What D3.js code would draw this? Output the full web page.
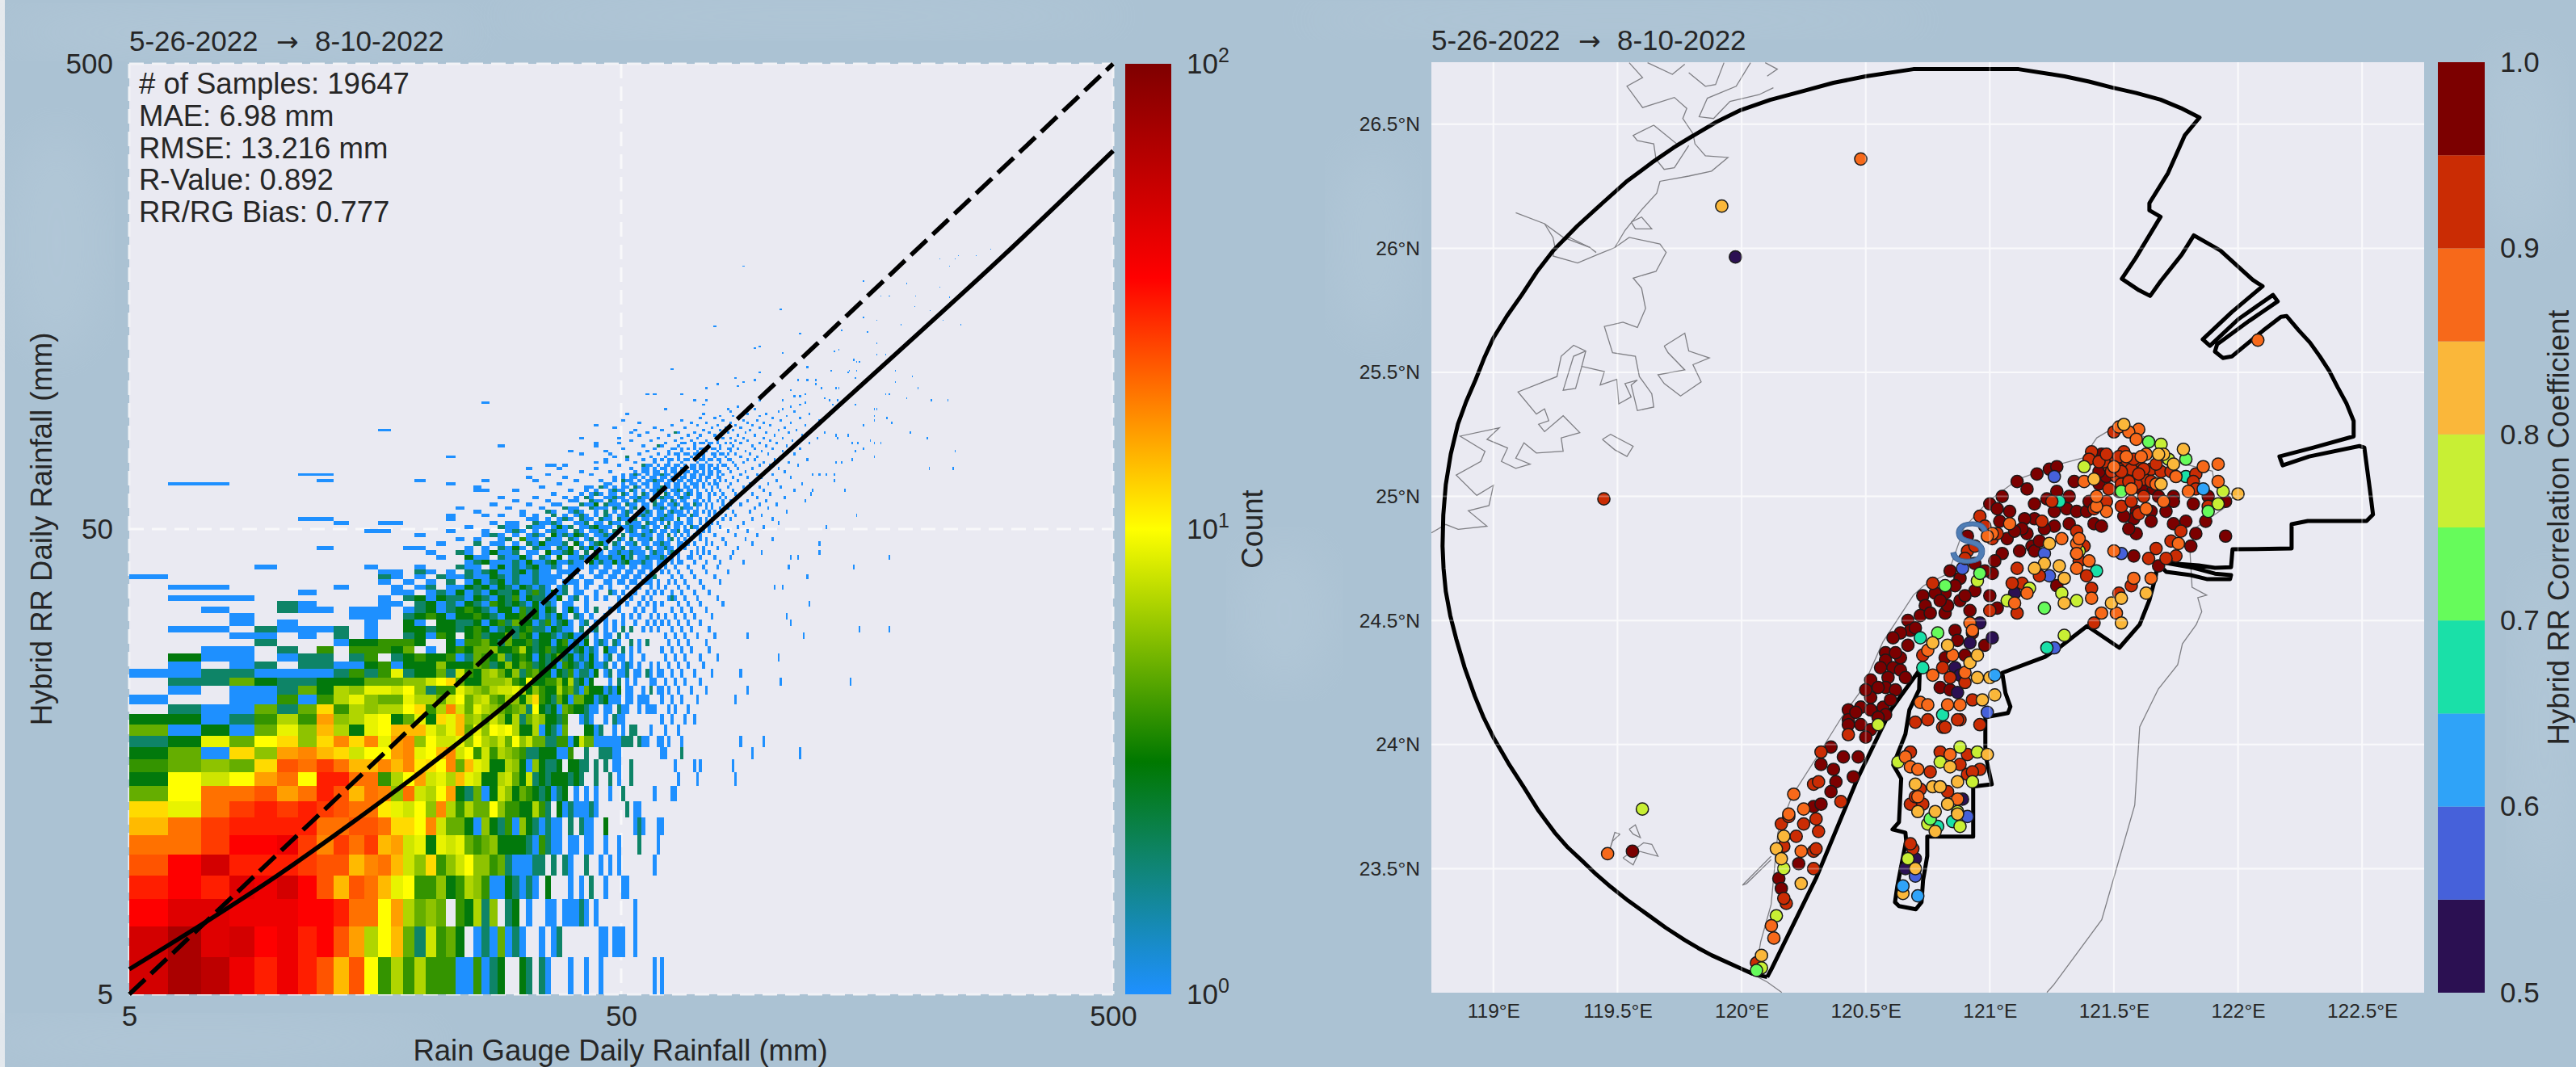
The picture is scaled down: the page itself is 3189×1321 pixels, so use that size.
<!DOCTYPE html>
<html>
<head>
<meta charset="utf-8">
<script src="https://d3js.org/d3.v7.min.js"></script>
<style>
  html, body { margin: 0; padding: 0; background: #abc2d3; }
  text { font-family: "Liberation Sans", Arial, sans-serif; fill: #262626; }
</style>
</head>
<body>
<svg id="chart" width="3189" height="1321"></svg>
<script>
// ---- data: scatter density panel ----
var dateStart = "5-26-2022";
var dateEnd = "8-10-2022";
var statLines = ["# of Samples: 19647", "MAE: 6.98 mm", "RMSE: 13.216 mm", "R-Value: 0.892", "RR/RG Bias: 0.777"];
var rainTicks = [5, 50, 500];
var countTicks = [1, 10, 100];

// one char per 1 mm bin, first char is gauge 5 mm, first row is radar 5 mm
var countCodes = "123456789abcdefghijklmnop";
var countValues = [1,2,3,4,5,6,7,8,9,10,11,12,14,16,18,20,23,26,30,35,40,45,50,60,70];
var denseRows = [
  "npoljljhdha474744411412 3..32.21...1..1..1............1.1",
  "npmnkljkhe7ad528453.1215121..1.12.......11.111..1",
  "kmmlllkkjggae7565.43726.23.1..11.11121.1........1",
  "jkjmlnkhdhgd9a446347641132121.3...1.1.2..1...11",
  "hknjjjihhdfgd86c468a66452111 22.2.21..2..1.1.1........1",
  "ggikklifigide89398954563333214211.11.11..1..1....2....1",
  "dgijjjjgghhgccaf85531632416321211.2.211..3......121...11",
  "c9gijijihggb98a6f74755a64433742.31211121......2.11",
  "5agghegjhdgf6g87ae3251386354323123.1.1.1..1..2.......1....11",
  "3a8aegajjgg47ae897d983378538232333232..2..2.1..2",
  "4565chgigddfdfbcaf5d98337631632 23.3322.2.2.11..2...........1.....1",
  "351c6efdc8aaef9adf8a48476542233311 4..2..22211..........11",
  "2395ac6cfcf9ef6a8896a768 5a68552 24413855111111 222.211..1",
  "51315 96d739addd979d59 6a9a7337 13215...33 12..1.1.22",
  "33124 74e679a359 3c9d675 8637 25 7633 24..12 1..1.211",
  ".211 525c4767 7ac47f8 59765 456 2a3231 54 3 3 211.11.211..1.111",
  "1..114147965 59775 8a578 547 6 3 7c432 53155 331231 11.11.11",
  ".1.1125376998a6244976578897364337452153331213.11..1.2..1",
  ".225322333555668ac533666743a33446372313...1.2.1.1...1",
  "1122111124249233528436753624533132412213.12.112.11.21.1",
  ".1.12.221134133363 33 5423635423231432123 11 2.1.121.1..1",
  ".31 1.122.24.234334 125436234313235231 21 31.12.11.1..1",
  "..11.2.4.44435.1.3435 56334732342331 231 21.311.2.1.1",
  "....2...1334443..3144 53253342331341 21 3.121.11..2.1",
  "...11.1.2.1..23143.34 23352431 33212311 2.1.11.2.1",
  ".11.2 1112.1..3 32332 343123234 22132 11.2.11.1.1.2",
  "...1.1....1..31.3322 3134253312412 31.12.1.1",
  "...1.....111.234313343213342 31213 1.21.1..1",
  "..1..211.111.123 12343 2133142 3132.131.1.2",
  ".....21....1 1.2312132 14323213 121.11..1",
  ".111.......1.2 31322 1321 324132211 3.12.1.1",
  "......1.....11.12131 2132231 24213 12.11..1",
  ".11.....1...1.12 .113 231321321 21.12.1.1",
  "...........1.1.1 .2.1 31231 2 3 1 21 .1.2.1",
  "1..........21.1.2 11 2 1132 1 2 3 1 21 1.1.2.1",
  "...........11.21.1.2 123 1123 12 21.11.1..1",
  "....1.....1...1...2 11.231 2123 112 1.111.1"
].map(function(r) { return r.replace(/ /g, ""); });

// single-count cells above and to the right of the dense block: [radar mm, [gauge mm]]
var sparseRows = [
  [14, [65,71,85]], [15, [72,84]], [16, [61,66,92,115]], [17, [60,62,66,87,97]], [18, [57,61,65]],
  [19, [60,63,67,70]], [20, [58,62,64,68]], [21, [56,60,63,66,71,85]], [22, [59,62,65,69,74,90]],
  [23, [58,61,64,67,72,105,146]], [24, [60,63,66,70,76,87]], [25, [59,62,65,68,73]], [26, [61,64,67,72,78,104]],
  [27, [60,63,66,69,75]], [28, [62,65,68,74]], [29, [61,64,67,71,77,90,117]], [30, [52,55,57,59,63,66,69,75,152,175]],
  [31, [48,50,53,56,58,60,62,65,68,72,110]], [32, [50,52,54,57,59,61,64,67,70,76,108]], [33, [47,49,53,55,58,63,66,69,74]],
  [34, [49,51,54,56,58,60,65,68,72,80,120]], [35, [46,49,52,55,57,62,64,67,71,78]], [36, [48,50,53,56,58,60,63,66,70,75]],
  [37, [45,47,51,54,57,59,61,65,68,73,102,106]], [38, [32,34,36,38,40,42,46,49,52,55,57,59,62,64,67,72,79]],
  [39, [44,47,50,53,56,58,63,66,70,77,119]], [40, [45,48,51,54,57,60,62,65,69,74,82]],
  [41, [43,46,49,52,55,57,59,61,64,68,73,78,109,148]],
  [42, [24,27,28,31,33,34,37,38,41,44,47,49,52,53,56,59,60,63,66,70,74,79,88]],
  [43, [21,25,29,30,32,35,39,42,43,46,48,51,54,57,58,61,65,68,72,77,83,110,114,175]],
  [44, [20,26,28,33,36,37,40,45,47,50,53,55,59,62,64,69,71,75,84,96,126]],
  [45, [12,18,19,24,29,31,34,38,42,44,48,52,54,57,60,63,67,73,78,86]],
  [46, [21,27,30,35,36,41,43,46,49,51,56,58,61,66,70,76,81,92,126]],
  [47, [23,25,32,33,37,40,45,47,50,54,55,59,62,65,69,74,80,89,101]],
  [48, [19,28,30,34,39,42,44,48,52,53,57,60,64,68,72,77,85,94]],
  [49, [15,16,22,26,31,35,38,43,46,49,51,55,58,61,63,67,71,75,82,90]],
  [50, [24,29,33,36,41,45,47,50,53,56,59,62,65,70,73,79,86,97,130]],
  [51, [13,16,17,27,30,34,37,40,44,48,52,54,57,60,64,66,69,74,78,88,104]],
  [52, [11,12,22,32,35,39,43,46,50,51,55,58,61,63,68,72,76,83,92,101]],
  [53, [22,26,28,33,38,42,47,49,53,56,59,62,65,67,71,75,81,85,96,150]],
  [54, [25,31,36,41,44,48,52,54,57,60,64,66,70,73,77,84,91,108]],
  [55, [23,29,34,39,45,46,50,55,58,61,63,67,69,74,79,82,93,99]],
  [56, [27,32,37,42,47,49,53,56,59,62,65,68,72,76,80,87,95,103]],
  [57, [30,35,40,44,48,51,54,57,60,64,66,70,73,78,83,90,98,118]],
  [58, [28,33,38,43,46,50,52,55,58,61,63,67,71,75,81,86,94,107]],
  [59, [36,41,45,47,51,56,59,62,65,69,72,77,80,85,92,100,121]],
  [60, [25,26,30,39,44,49,53,57,60,63,66,68,74,79,84,89,97,112,122,142]],
  [61, [25,34,42,46,50,54,58,61,64,67,70,73,76,82,88,95,105]],
  [62, [6,7,22,37,47,52,55,59,62,65,69,71,75,78,83,91,99,116]],
  [63, [12,19,26,33,40,45,51,56,60,63,66,68,72,77,81,86,93,103,135]],
  [64, [32,38,48,53,57,61,64,67,70,74,79,84,90,96,110]],
  [65, [11,12,35,43,50,54,58,62,65,69,73,76,80,87,94,101,122,126,130,135]],
  [66, [41,47,55,59,63,66,68,71,75,78,83,89,98,107]],
  [67, [32,37,44,52,56,60,64,67,70,72,77,82,86,92,104,211,236]],
  [68, [35,36,38,49,57,61,65,69,73,76,80,85,95,100,114]],
  [69, [44,46,53,58,62,66,71,74,79,84,88,97,109,136,140]],
  [70, [46,51,55,60,63,68,72,75,78,83,90,93,102,119,147]],
  [71, [22,48,57,61,65,69,73,77,81,87,94,105,163]],
  [72, [41,47,54,59,64,67,70,76,80,85,91,99,112]],
  [73, [39,46,56,62,66,71,74,78,83,89,96,106,149,238]],
  [74, [50,58,63,68,72,77,82,86,93,101,115,155]],
  [75, [28,44,55,60,65,70,75,79,84,92,98,108]],
  [76, [44,49,61,67,73,76,81,87,95,103,120,147,151,163,168]],
  [77, [52,57,64,69,74,78,85,90,100,111,160]],
  [78, [41,49,59,66,71,80,83,88,97,106,125,137,209]],
  [79, [54,62,68,72,77,86,93,102,116,136,144]],
  [80, [52,56,65,70,75,82,89,98,109,129,193]],
  [81, [16,53,60,73,79,84,91,104,113]],
  [82, [48,58,67,76,81,87,95,107,122]],
  [83, [44,63,71,78,85,92,100,118,155]],
  [84, [54,69,74,83,90,97,110,177]],
  [85, [50,66,80,88,94,105,126,163]],
  [86, [72,77,86,101,115,173]], [87, [79,84,95,108,132,163]], [88, [51,73,90,98,120]], [89, [83,104,112]],
  [90, [61,82,93,106,163,165]],
  [91, [86,110]], [92, [73,115,134,149]], [93, [26,118]], [94, [70,74,95,106,132,137,213,230]],
  [95, [129,190]], [96, [112,115]], [97, [56,58,66,118,172,175]], [99, [110]], [100, [74,127,136,138,200]],
  [101, [86]], [102, [78,124]], [103, [88,180]], [104, [93,114,119,124]], [105, [85,149]], [106, [195]],
  [108, [95,144]], [109, [133,145,150,180]], [110, [63]], [111, [119]], [114, [150,152]], [115, [148]],
  [118, [165,172]], [119, [106]], [120, [135,185]], [121, [138]], [122, [93]], [123, [95]], [125, [165]],
  [127, [195]], [131, [115]], [132, [158]], [133, [140]], [136, [77]], [137, [185,245]], [140, [165,225]],
  [142, [155]], [147, [212]], [148, [105]], [150, [197]], [157, [232]], [158, [168,175,198]], [165, [222]],
  [168, [190]], [170, [155]], [183, [88,232]], [190, [222,238]], [193, [242,263]], [199, [281]]
];
// more single-count cells where the cloud is thickest
var thickRows = [
  [38, [31,35,39,43,47,50,53,56]],
  [39, [26,31,36,41,45,48,51,54,57]],
  [40, [29,34,39,43,46,49,52,55]],
  [41, [27,31,37,41,44,47,50,53,56]],
  [42, [29,32,36,40,43,46,50,54,57,61,65]],
  [43, [26,31,34,37,40,45,49,52,55,59,63,69]],
  [44, [24,29,32,38,42,44,48,51,54,57,60,65,73]],
  [45, [26,30,35,39,43,46,49,53,56,59,62,65,71]],
  [46, [28,33,37,40,45,48,52,55,59,62,65,68,74]],
  [47, [28,31,36,39,42,46,49,52,56,60,63,67,72]],
  [48, [26,32,37,41,45,47,50,54,56,59,62,66,70]],
  [49, [29,33,37,41,44,48,53,56,60,64,68,73]],
  [50, [30,34,38,42,46,51,54,58,61,64,67,71,75]],
  [51, [29,35,41,45,49,53,58,62,65,68,72,76]],
  [52, [33,37,42,47,52,56,59,62,65,69,74,80]],
  [53, [31,36,40,44,50,54,57,60,63,66,70,77]],
  [54, [35,39,46,50,55,59,62,65,68,71,75]],
  [55, [40,44,49,52,56,59,64,68,71,76]],
  [56, [36,43,48,52,55,60,63,67,71,74,83]],
  [57, [39,45,50,55,58,61,63,67,71,75,80]],
  [58, [40,47,49,53,56,59,62,65,68,72,79]],
  [59, [43,48,50,53,55,58,61,64,67,71,75]],
  [60, [42,47,50,52,55,58,61,64,69,71,76]],
  [61, [43,48,51,53,56,59,62,65,68,71,78]],
  [62, [46,50,53,56,58,61,64,67,70,73,77]],
  [63, [48,52,54,57,59,62,65,69,71,74,79]],
  [64, [50,52,55,58,60,63,66,69,72,75,78]],
  [65, [52,56,59,61,64,67,70,72,75,78]],
  [66, [53,56,58,61,64,67,70,73,76,79]],
  [67, [55,58,61,63,66,69,73,75,78]],
  [68, [56,59,62,64,67,70,72,75,78,81]],
  [70, [58,62,65,67,70,73,76,79,82]],
  [72, [62,65,68,71,73,77,79,82]],
  [74, [64,66,70,73,76,79,83]],
  [76, [66,70,72,75,78,83]]
];
// cells in the core of the cloud with more than one sample: [radar mm, count, [gauge mm]]
var coreRows = [
  [16,2,[66]], [28,2,[48,56]], [30,2,[44,52]], [35,2,[63]], [36,2,[47]], [39,2,[58]],
  [42,2,[25,30,35,39,45,50,55,61]], [42,3,[26,32,36,43,48,51]], [43,3,[24,31,37,44,50]],
  [43,2,[28,34,41,47,52,56,60]], [44,2,[23,30,38,42,49,52,58,63]], [44,3,[27,35,39,44]],
  [45,2,[28,33,37,41,46,50,56,61]], [45,3,[30,39,43]], [46,2,[25,32,38,44,48,53,60]], [46,3,[34,40,45]],
  [47,2,[29,35,39,43,49,52,57,63]], [47,4,[31]], [48,2,[27,33,38,41,46,50,55,62]], [48,3,[36,40]],
  [49,2,[30,36,40,45,48,52,57,65]], [50,2,[28,32,39,43,49,52,55,61,69]], [50,3,[37,44]],
  [51,2,[33,36,42,47,51,56,62]], [52,2,[38,41,45,49,53,60,65]], [53,2,[36,41,46,51,55,61,69]],
  [54,2,[35,40,46,51,56,63]], [55,2,[38,43,48,53,60,66]], [56,2,[41,46,51,58,64,70]], [56,3,[44]],
  [57,2,[43,47,53,58,63]], [58,2,[42,48,54,60,66]], [59,2,[44,50,55,61,68]], [60,2,[48,52,59,65]],
  [61,2,[45,53,60]], [63,2,[50,58]], [65,2,[53,60]], [68,2,[55]], [71,2,[51]], [75,2,[59]], [80,2,[64]]
];

// fit line through the density, gauge mm vs radar mm
var fitGauge = [5, 7, 10, 15, 20, 30, 50, 100, 200, 300, 500];
var fitRadar = [5.66, 7.05, 9.0, 12.2, 15.3, 21.5, 34.9, 67.5, 131, 194, 325];
var oneToOne = [5, 500];

// ---- data: station map panel ----
var lonTicks = [119, 119.5, 120, 120.5, 121, 121.5, 122, 122.5];
var latTicks = [23.5, 24, 24.5, 25, 25.5, 26, 26.5];
var corrTicks = [0.5, 0.6, 0.7, 0.8, 0.9, 1.0];
var corrBands = [0.5, 0.55, 0.6, 0.65, 0.7, 0.75, 0.8, 0.85, 0.9, 0.95, 1.0];
var corrColors = ["#2b1052", "#4661da", "#2fa3f8", "#1ae0a8", "#66fb5b", "#c8ef34", "#fab73a", "#f7691a", "#ca2c04", "#7c0000"];

var coverage = [[120.103,23.063],[120.120,23.095],[120.302,23.466],[120.468,23.865],[120.601,24.140],[120.718,24.302],[120.715,24.221],[120.676,24.140],[120.660,24.042],[120.611,23.918],[120.643,23.863],[120.634,23.687],[120.608,23.658],[120.660,23.645],[120.663,23.613],[120.627,23.427],[120.618,23.365],[120.634,23.349],[120.702,23.336],[120.725,23.365],[120.731,23.453],[120.748,23.551],[120.748,23.629],[120.933,23.629],[120.933,23.831],[121.008,23.840],[120.982,23.961],[120.982,24.110],[121.073,24.127],[121.083,24.153],[121.063,24.208],[121.050,24.289],[121.223,24.354],[121.288,24.397],[121.392,24.478],[121.522,24.390],[121.604,24.484],[121.643,24.582],[121.669,24.680],[121.675,24.732],[121.711,24.696],[121.809,24.683],[121.874,24.667],[121.968,24.667],[121.972,24.683],[121.907,24.689],[121.822,24.712],[121.711,24.732],[121.841,24.722],[121.907,24.712],[121.972,24.715],[121.978,24.787],[122.216,24.790],[122.216,24.888],[122.281,24.901],[122.518,24.901],[122.544,24.927],[122.531,25.031],[122.509,25.197],[122.489,25.203],[122.287,25.161],[122.180,25.125],[122.167,25.161],[122.304,25.197],[122.466,25.242],[122.466,25.304],[122.437,25.375],[122.401,25.441],[122.368,25.505],[122.330,25.564],[122.29,25.62],[122.245,25.669],[122.196,25.727],[122.173,25.724],[122.102,25.669],[121.975,25.564],[121.939,25.558],[121.907,25.584],[121.916,25.613],[122.046,25.708],[122.160,25.786],[122.141,25.812],[122.001,25.714],[121.887,25.607],[121.858,25.633],[121.975,25.743],[122.099,25.847],[122.059,25.873],[121.929,25.991],[121.822,26.052],[121.773,25.974],[121.688,25.867],[121.646,25.808],[121.601,25.831],[121.532,25.877],[121.588,25.961],[121.688,26.127],[121.643,26.153],[121.643,26.182],[121.718,26.303],[121.786,26.456],[121.845,26.527],[121.77,26.565],[121.688,26.599],[121.59,26.626],[121.493,26.648],[121.4,26.672],[121.301,26.693],[121.239,26.703],[121.116,26.722],[120.692,26.722],[120.500,26.693],[120.37,26.667],[120.237,26.631],[120.115,26.598],[119.996,26.557],[119.90,26.51],[119.814,26.459],[119.725,26.405],[119.638,26.345],[119.535,26.268],[119.439,26.182],[119.338,26.09],[119.241,25.991],[119.175,25.905],[119.114,25.812],[119.055,25.728],[119.000,25.639],[118.962,25.556],[118.928,25.470],[118.890,25.382],[118.857,25.291],[118.828,25.17],[118.808,25.047],[118.798,24.925],[118.795,24.800],[118.799,24.71],[118.808,24.618],[118.826,24.52],[118.850,24.426],[118.884,24.31],[118.925,24.195],[118.96,24.11],[119.000,24.029],[119.06,23.925],[119.123,23.827],[119.182,23.733],[119.247,23.645],[119.30,23.585],[119.358,23.531],[119.414,23.477],[119.472,23.427],[119.544,23.37],[119.618,23.317],[119.694,23.262],[119.771,23.212],[119.825,23.18],[119.879,23.151],[120.002,23.095],[120.045,23.076],[120.103,23.063]];

var taiwanCoast = [[120.162,23.001],[120.103,23.043],[120.054,23.069],[120.077,23.206],[120.119,23.356],[120.146,23.645],[120.204,23.795],[120.302,23.948],[120.403,24.110],[120.484,24.221],[120.569,24.413],[120.692,24.602],[120.735,24.641],[120.832,24.689],[120.897,24.875],[120.995,24.982],[121.116,25.070],[121.278,25.129],[121.376,25.155],[121.431,25.236],[121.496,25.275],[121.604,25.252],[121.711,25.177],[121.767,25.135],[121.897,25.102],[121.907,25.037],[121.985,25.005],[121.952,24.959],[121.832,24.875],[121.806,24.787],[121.815,24.634],[121.874,24.602],[121.838,24.592],[121.854,24.536],[121.832,24.484],[121.776,24.406],[121.757,24.322],[121.679,24.224],[121.604,24.071],[121.584,23.756],[121.451,23.294],[121.256,23.030],[121.230,23.001]];
var mainlandCoasts = [
  [[119.547,26.748],[119.601,26.688],[119.538,26.653],[119.601,26.567],[119.729,26.608],[119.779,26.564],[119.763,26.523],[119.804,26.462],[119.812,26.421],[119.854,26.373],[119.945,26.366],[119.879,26.311],[119.787,26.291],[119.671,26.270],[119.658,26.222],[119.596,26.154],[119.530,26.072],[119.489,26.003],[119.422,25.976],[119.339,25.941],[119.240,25.969],[119.248,26.003],[119.306,26.044],[119.389,26.003],[119.414,25.983]],
  [[119.489,26.003],[119.547,26.044],[119.671,26.017],[119.696,25.983],[119.655,25.907],[119.563,25.880],[119.597,25.839],[119.613,25.757],[119.580,25.681],[119.522,25.702],[119.447,25.685],[119.480,25.579],[119.572,25.565],[119.588,25.483],[119.638,25.414],[119.646,25.360],[119.580,25.346],[119.555,25.449],[119.580,25.469],[119.530,25.455],[119.555,25.401],[119.505,25.373],[119.497,25.472],[119.430,25.449],[119.447,25.503],[119.356,25.524],[119.372,25.586],[119.323,25.609],[119.273,25.565],[119.256,25.483],[119.099,25.421],[119.173,25.332],[119.206,25.353],[119.223,25.305],[119.182,25.291],[119.206,25.261],[119.281,25.325],[119.348,25.257],[119.273,25.236],[119.281,25.182],[119.173,25.175],[119.123,25.216],[119.090,25.154],[119.148,25.130],[119.090,25.113],[119.032,25.141],[119.057,25.195],[118.974,25.230],[119.024,25.277],[118.866,25.243],[118.966,25.182],[118.949,25.141],[118.850,25.086],[118.933,25.004],[119.000,25.045],[118.982,24.963],[118.899,24.942],[118.974,24.880],[118.858,24.867],[118.808,24.887],[118.750,24.853]],
  [[119.372,25.586],[119.323,25.565],[119.281,25.428],[119.331,25.435],[119.356,25.524]],
  [[119.621,26.748],[119.721,26.701],[119.771,26.742]],
  [[119.787,26.708],[119.854,26.653],[119.895,26.660],[119.929,26.748]],
  [[120.036,26.748],[119.978,26.653],[119.862,26.605],[119.829,26.530],[119.887,26.523],[119.953,26.592],[120.070,26.619],[120.128,26.647]],
  [[120.095,26.748],[120.144,26.722],[120.103,26.694]],
  [[119.804,26.462],[119.738,26.421],[119.646,26.496],[119.563,26.455],[119.580,26.434],[119.646,26.421],[119.655,26.359],[119.688,26.318],[119.729,26.325],[119.787,26.414]],
  [[119.090,26.143],[119.206,26.099],[119.281,26.044],[119.389,26.003]],
  [[119.206,26.099],[119.240,26.044],[119.248,26.003]],
  [[119.555,26.106],[119.597,26.126],[119.638,26.078],[119.572,26.078],[119.555,26.106]],
  [[119.688,25.606],[119.771,25.658],[119.787,25.586],[119.870,25.558],[119.804,25.531],[119.837,25.462],[119.754,25.405],[119.688,25.455],[119.663,25.490],[119.771,25.510],[119.704,25.579],[119.688,25.606]],
  [[119.439,25.230],[119.472,25.250],[119.563,25.202],[119.538,25.161],[119.489,25.188],[119.439,25.230]],
  [[119.510,23.639],[119.489,23.646],[119.469,23.577],[119.480,23.611],[119.510,23.639]],
  [[119.547,23.659],[119.572,23.676],[119.592,23.625],[119.563,23.639],[119.547,23.659]],
  [[119.522,23.543],[119.605,23.604],[119.638,23.598],[119.663,23.550],[119.588,23.570],[119.563,23.515],[119.522,23.543]],
  [[120.119,23.550],[120.003,23.433],[120.020,23.440],[120.119,23.536]]
];

// stations by correlation band, [lon, lat]
var stations95 = [[121.11,25.06],[121.19,25.09],[121.24,25.11],[121.27,25.12],[121.34,25.06],[121.15,25.03],[121.05,25.00],[121.27,25.02],[121.23,24.99],[121.32,25.00],[121.18,24.97],[121.00,24.97],[121.03,24.95],[121.08,24.94],[121.26,24.94],[121.31,24.95],[121.35,24.94],[121.39,24.94],[121.40,24.98],[121.44,25.05],[121.45,25.17],[121.47,25.11],[121.56,25.11],[121.66,25.03],[121.74,25.00],[121.74,24.98],[121.82,24.97],[121.95,24.98],[121.88,25.00],[121.71,24.94],[121.65,24.94],[121.59,24.94],[121.58,24.91],[121.65,24.90],[121.54,24.92],[121.74,24.89],[121.79,24.90],[121.87,24.90],[121.83,24.85],[121.81,24.80],[121.95,24.84],[121.59,24.85],[121.56,24.87],[121.58,24.76],[121.42,24.89],[121.45,24.88],[121.32,24.89],[121.26,24.88],[121.22,24.87],[121.18,24.91],[121.14,24.91],[121.04,24.90],[121.15,24.85],[121.07,24.83],[120.91,24.84],[121.12,24.78],[121.17,24.80],[121.18,24.78],[121.05,24.77],[121.02,24.74],[121.01,24.69],[120.94,24.73],[120.84,24.70],[120.88,24.67],[120.86,24.64],[120.82,24.61],[120.78,24.61],[120.73,24.60],[120.74,24.56],[120.72,24.52],[120.82,24.53],[120.83,24.56],[120.88,24.58],[120.92,24.54],[120.94,24.62],[121.00,24.60],[121.03,24.55],[120.67,24.50],[120.68,24.46],[120.70,24.47],[120.64,24.45],[120.61,24.43],[120.67,24.40],[120.86,24.46],[120.87,24.42],[120.93,24.45],[120.98,24.40],[120.90,24.36],[120.82,24.35],[120.58,24.37],[120.58,24.34],[120.64,24.35],[120.56,24.31],[120.61,24.31],[120.64,24.30],[120.59,24.27],[120.66,24.27],[120.52,24.26],[120.58,24.23],[120.62,24.22],[120.52,24.19],[120.57,24.15],[120.48,24.15],[120.52,24.14],[120.55,24.11],[120.58,24.12],[120.80,24.23],[120.84,24.22],[121.27,24.64],[121.68,24.72],[120.43,24.14],[120.48,24.15],[120.52,24.14],[120.43,24.10],[120.43,24.08],[120.48,24.08],[120.55,24.11],[120.52,24.06],[120.50,24.03],[120.36,23.99],[120.41,23.95],[120.47,23.95],[120.32,23.92],[120.37,23.90],[120.38,23.85],[120.45,23.87],[120.36,23.81],[120.29,23.75],[120.32,23.76],[120.23,23.52],[120.15,23.46],[120.16,23.42],[119.56,23.57],[121.47,25.08],[121.52,25.02],[121.44,25.10],[121.61,25.03],[121.68,25.00],[121.13,24.87],[121.10,24.86],[121.20,24.82],[120.98,24.70],[120.80,24.58],[120.76,24.53],[120.90,24.60],[120.62,24.37],[120.55,24.23],[120.50,24.22],[120.60,24.18],[120.46,24.13]];
var stations90 = [[121.41,25.18],[121.40,25.15],[121.54,25.18],[121.50,25.15],[121.48,25.12],[121.54,25.13],[121.60,25.13],[121.51,25.08],[121.57,25.08],[121.65,25.11],[121.69,25.10],[121.62,25.07],[121.65,25.06],[121.55,25.09],[121.57,25.11],[121.48,25.03],[121.53,25.05],[121.59,25.05],[121.83,25.09],[121.82,25.06],[121.83,25.03],[121.50,25.26],[121.35,24.86],[121.35,24.77],[121.39,24.68],[121.41,24.63],[121.52,24.61],[121.57,24.64],[121.67,24.79],[121.64,24.75],[121.75,24.76],[121.77,24.86],[121.73,24.82],[121.71,24.75],[121.53,24.96],[121.62,25.00],[121.57,24.98],[121.47,24.98],[121.25,24.98],[121.21,24.90],[121.11,24.53],[121.13,24.65],[121.09,24.65],[121.20,24.68],[121.00,24.54],[120.77,24.65],[120.73,24.36],[120.81,24.31],[120.84,24.27],[120.90,24.25],[120.93,24.18],[120.88,24.10],[120.75,24.10],[120.70,24.09],[120.81,24.07],[120.96,24.92],[121.01,24.83],[120.91,24.78],[120.90,24.75],[121.11,24.71],[121.88,24.96],[121.42,24.49],[120.68,23.97],[120.80,23.97],[120.87,24.10],[120.82,24.07],[120.96,24.08],[120.91,23.96],[120.96,23.90],[120.91,23.88],[120.93,23.89],[120.88,23.92],[120.76,23.89],[120.83,23.81],[120.68,23.76],[120.73,23.76],[120.72,23.82],[120.70,23.79],[120.69,23.58],[120.68,23.60],[120.30,23.70],[120.25,23.68],[120.22,23.63],[120.31,23.65],[120.17,23.59],[120.16,23.68],[120.19,23.71],[120.29,23.57],[120.30,23.58],[120.18,23.36],[120.17,23.38],[120.43,24.04],[120.32,23.97],[120.29,23.84],[120.31,23.85],[120.40,23.77],[120.29,23.50],[120.06,23.12],[119.445,24.99],[121.46,25.14],[121.49,25.10],[121.52,25.11],[121.58,25.15],[121.62,25.11],[121.67,25.13],[121.53,25.10],[121.56,25.06],[121.60,25.09],[121.44,25.14],[121.47,25.17],[121.52,25.16],[121.73,25.10],[121.42,24.95],[121.60,24.93],[121.38,24.80],[121.36,24.74],[121.03,24.85],[120.94,24.80],[120.98,24.88]];
var stations85 = [[121.52,25.28],[121.60,25.27],[121.56,25.26],[121.59,25.23],[121.63,25.17],[121.92,25.13],[121.92,25.06],[121.75,25.08],[121.86,25.12],[121.38,25.06],[121.70,24.98],[121.47,24.94],[121.43,24.96],[121.63,24.95],[121.08,24.89],[121.29,24.83],[121.35,24.71],[121.35,24.81],[121.50,24.78],[121.58,24.67],[121.65,24.67],[121.45,24.53],[121.51,24.53],[121.41,24.59],[121.01,24.85],[120.77,24.28],[120.72,24.17],[120.75,24.16],[120.83,24.16],[120.88,24.16],[120.90,24.29],[120.75,24.38],[121.76,24.81],[120.92,24.49],[121.10,24.57],[121.80,25.02],[121.15,24.61],[121.35,24.77],[120.66,23.95],[120.68,23.91],[120.71,23.90],[120.84,23.96],[120.71,23.79],[120.87,23.78],[120.21,23.80],[120.19,23.72],[120.25,23.74],[120.24,23.57],[120.12,23.27],[120.13,23.22],[120.48,26.36],[119.46,23.56],[122.08,25.63],[121.55,25.16],[121.50,25.12],[121.61,25.16],[121.57,25.03],[121.67,25.05],[121.43,25.00],[121.36,24.83],[121.40,24.74],[120.99,24.84],[120.93,24.46],[120.85,24.36]];
var stations80 = [[121.54,25.29],[121.78,25.19],[121.70,25.17],[121.68,25.17],[121.74,25.13],[121.42,25.07],[121.69,25.05],[121.24,24.81],[121.22,24.73],[121.28,24.72],[121.18,24.71],[121.30,24.67],[121.30,24.57],[121.49,24.57],[121.53,24.49],[121.53,24.59],[121.63,24.61],[120.77,24.41],[120.83,24.40],[120.92,24.33],[120.95,24.36],[120.95,24.27],[121.00,24.27],[121.02,24.20],[120.97,24.18],[122.00,25.01],[120.70,23.84],[120.77,23.83],[120.80,23.83],[120.87,23.85],[120.84,23.91],[120.99,23.96],[120.83,23.76],[120.71,23.73],[120.78,23.73],[120.87,23.72],[120.78,23.65],[120.17,23.63],[120.14,23.58],[120.16,23.54],[120.24,23.44],[120.08,23.15],[120.65,23.40],[120.70,23.50],[119.92,26.17]];
var stations75 = [[121.69,25.21],[121.72,25.15],[121.94,25.02],[121.92,24.97],[121.38,25.12],[120.95,24.66],[121.35,24.58],[121.30,24.44],[121.07,24.58],[121.16,24.63],[121.29,24.61],[121.36,24.78],[120.55,24.08],[120.63,23.93],[120.80,23.93],[120.95,23.97],[120.93,23.85],[120.88,23.99],[120.87,23.73],[120.88,23.67],[120.75,23.68],[120.67,23.54],[120.17,23.50],[120.14,23.31],[120.08,23.10],[119.60,23.74]];
var stations70 = [[121.64,25.22],[121.79,25.15],[121.53,25.02],[121.88,24.94],[120.82,24.64],[120.96,24.69],[121.22,24.55],[120.79,24.45],[120.76,23.70],[120.06,23.09]];
var stations65 = [[121.79,25.08],[121.43,24.70],[121.28,24.98],[121.23,24.39],[120.72,24.43],[120.73,24.31],[120.81,24.12],[120.85,23.69],[120.79,23.67]];
var stations60 = [[121.86,25.03],[121.02,24.28],[120.65,23.43],[120.71,23.39]];
var stations55 = [[121.26,25.08],[121.22,24.77],[121.24,24.68],[121.53,24.77],[120.89,24.71],[121.26,24.39],[120.99,24.13],[120.91,23.71],[120.70,23.47]];
var stations50 = [[121.10,24.61],[120.96,24.49],[121.01,24.43],[120.92,24.41],[120.86,24.31],[120.88,24.28],[120.87,24.21],[120.70,23.54],[120.66,23.50],[120.89,23.78],[119.975,25.965]];

// ---- page ----
var svg = d3.select("#chart");
var axisBg = "#eaeaf2";
var tickSize = 35;
var labelSize = 36.5;

svg.append("rect").attr("width", 3189).attr("height", 1321).attr("fill", "#abc2d3");
svg.append("rect").attr("width", 6).attr("height", 1321).attr("fill", "#e6eaee");
var defs = svg.append("defs");
defs.append("filter").attr("id", "soft").append("feGaussianBlur").attr("stdDeviation", 28);
[[300, 40, 300, 30], [1000, 20, 400, 25], [70, 300, 60, 140], [250, 1290, 300, 30],
 [1590, 760, 60, 90], [1700, 300, 50, 120], [2000, 25, 400, 20], [3120, 180, 50, 120], [3150, 900, 40, 200]].forEach(function(b) {
  svg.append("ellipse").attr("cx", b[0]).attr("cy", b[1]).attr("rx", b[2]).attr("ry", b[3])
    .attr("fill", "#c4d6e3").attr("opacity", 0.22).attr("filter", "url(#soft)");
});

function drawTitle(x0, y0) {
  svg.append("text").attr("x", x0).attr("y", y0).style("font-size", tickSize + "px").text(dateStart);
  svg.append("text").attr("x", x0 + 182).attr("y", y0).style("font-size", "33px").style("font-family", '"DejaVu Sans"').text("\u2192");
  svg.append("text").attr("x", x0 + 230).attr("y", y0).style("font-size", tickSize + "px").text(dateEnd);
}

// left panel
var x = d3.scaleLog().domain([5, 500]).range([160, 1378]);
var y = d3.scaleLog().domain([5, 500]).range([1231, 79]);

var colorStops = [[0, "#1e90ff"], [0.15, "#0e8468"], [0.25, "#007800"], [0.5, "#ffff00"], [0.77, "#ff0000"], [1, "#7f0000"]];
var countScale = d3.scaleLog().domain([1, 100]).range([0, 1]);
var ramp = d3.scaleLinear().domain(colorStops.map(function(d) { return d[0]; }))
  .range(colorStops.map(function(d) { return d[1]; }));

svg.append("rect").attr("x", 160).attr("y", 79).attr("width", 1218).attr("height", 1152).attr("fill", axisBg);

rainTicks.forEach(function(t) {
  var edge = t !== 50;
  svg.append("line").attr("x1", x(t)).attr("x2", x(t)).attr("y1", 79).attr("y2", 1231)
    .attr("stroke", edge ? "#f1f2f6" : "#f8f8fa").attr("stroke-width", 3).attr("stroke-dasharray", "18 10");
  svg.append("line").attr("x1", 160).attr("x2", 1378).attr("y1", y(t)).attr("y2", y(t))
    .attr("stroke", edge ? "#f1f2f6" : "#f8f8fa").attr("stroke-width", 3).attr("stroke-dasharray", "18 10");
});

var cells = [];
denseRows.forEach(function(row, i) {
  row.split("").forEach(function(ch, j) {
    var k = countCodes.indexOf(ch);
    if (k >= 0) cells.push({ gauge: 5 + j, radar: 5 + i, count: countValues[k] });
  });
});
sparseRows.concat(thickRows).forEach(function(r) {
  r[1].forEach(function(g) { cells.push({ gauge: g, radar: r[0], count: 1 }); });
});
coreRows.forEach(function(r) {
  r[2].forEach(function(g) { cells.push({ gauge: g, radar: r[0], count: r[1] }); });
});

svg.append("g").selectAll("rect").data(cells).enter().append("rect")
  .attr("x", function(d) { return x(d.gauge); })
  .attr("y", function(d) { return y(d.radar + 1); })
  .attr("width", function(d) { return x(d.gauge + 1) - x(d.gauge); })
  .attr("height", function(d) { return y(d.radar) - y(d.radar + 1); })
  .attr("fill", function(d) { return ramp(countScale(d.count)); })
  .attr("shape-rendering", "crispEdges");

var fitLine = d3.line().x(function(d) { return x(d[0]); }).y(function(d) { return y(d[1]); });
svg.append("path").attr("d", fitLine.curve(d3.curveCatmullRom)(fitGauge.map(function(g, i) { return [g, fitRadar[i]]; })))
  .attr("fill", "none").attr("stroke", "#000").attr("stroke-width", 5.5);
svg.append("path").attr("d", fitLine.curve(d3.curveLinear)(oneToOne.map(function(g) { return [g, g]; })))
  .attr("fill", "none").attr("stroke", "#000").attr("stroke-width", 5.5).attr("stroke-dasharray", "27 10");

function styleAxis(g, size) {
  g.select(".domain").remove();
  g.selectAll("line").remove();
  g.selectAll("text").style("font-size", size + "px").style("font-family", '"Liberation Sans", Arial, sans-serif').attr("fill", "#262626");
}

svg.append("g").attr("transform", "translate(0,1231)")
  .call(d3.axisBottom(x).tickValues(rainTicks).tickFormat(d3.format("d")).tickSize(0).tickPadding(14))
  .call(styleAxis, tickSize);
svg.append("g").attr("transform", "translate(160,0)")
  .call(d3.axisLeft(y).tickValues(rainTicks).tickFormat(d3.format("d")).tickSize(0).tickPadding(20))
  .call(styleAxis, tickSize);

drawTitle(160, 63);
statLines.forEach(function(s, i) {
  svg.append("text").attr("x", 172).attr("y", 116 + i * 39.8).style("font-size", labelSize + "px").text(s);
});
svg.append("text").attr("x", 768).attr("y", 1313).attr("text-anchor", "middle").style("font-size", labelSize + "px")
  .text("Rain Gauge Daily Rainfall (mm)");
svg.append("text").attr("transform", "translate(64,655) rotate(-90)").attr("text-anchor", "middle").style("font-size", labelSize + "px")
  .text("Hybrid RR Daily Rainfall (mm)");

// count colorbar
var grad = defs.append("linearGradient").attr("id", "countGrad").attr("x1", 0).attr("x2", 0).attr("y1", 1).attr("y2", 0);
colorStops.forEach(function(s) { grad.append("stop").attr("offset", s[0]).attr("stop-color", s[1]); });
var countAxis = d3.scaleLog().domain([1, 100]).range([1231, 79]);
svg.append("rect").attr("x", 1393).attr("y", 79).attr("width", 57).attr("height", 1152).attr("fill", "url(#countGrad)");
countTicks.forEach(function(t) {
  var lab = svg.append("text").attr("x", 1469).attr("y", countAxis(t) + 12).style("font-size", tickSize + "px");
  lab.append("tspan").text("10");
  lab.append("tspan").attr("dy", -14).style("font-size", "25px").text(String(Math.round(Math.log10(t))));
});
svg.append("text").attr("transform", "translate(1563,655) rotate(-90)").attr("text-anchor", "middle").style("font-size", labelSize + "px").text("Count");

// right panel
var lon = d3.scaleLinear().domain([118.75, 122.75]).range([1772, 3001]);
var lat = d3.scaleLinear().domain([23, 26.75]).range([1229, 77]);

defs.append("clipPath").attr("id", "mapClip").append("rect").attr("x", 1772).attr("y", 77).attr("width", 1229).attr("height", 1152);
svg.append("rect").attr("x", 1772).attr("y", 77).attr("width", 1229).attr("height", 1152).attr("fill", axisBg);

function drawGrid(opacity) {
  var g = svg.append("g").attr("opacity", opacity).attr("stroke", "#f9f9fb").attr("stroke-width", 2);
  lonTicks.forEach(function(t) { g.append("line").attr("x1", lon(t)).attr("x2", lon(t)).attr("y1", 77).attr("y2", 1229); });
  latTicks.forEach(function(t) { g.append("line").attr("x1", 1772).attr("x2", 3001).attr("y1", lat(t)).attr("y2", lat(t)); });
}
drawGrid(1);

var map = svg.append("g").attr("clip-path", "url(#mapClip)");
var geoLine = d3.line().x(function(d) { return lon(d[0]); }).y(function(d) { return lat(d[1]); });

mainlandCoasts.concat([taiwanCoast]).forEach(function(c) {
  map.append("path").attr("d", geoLine(c)).attr("fill", "none").attr("stroke", "#7f7f84").attr("stroke-width", 1.3);
});
map.append("path").attr("d", geoLine(coverage)).attr("fill", "none").attr("stroke", "#000").attr("stroke-width", 5).attr("stroke-linejoin", "round");

var bandLists = [stations50, stations55, stations60, stations65, stations70, stations75, stations80, stations85, stations90, stations95];
[9, 0, 1, 3, 8, 5, 4, 7, 6, 2].forEach(function(b) {
  map.append("g").selectAll("circle").data(bandLists[b]).enter().append("circle")
    .attr("cx", function(d) { return lon(d[0]); })
    .attr("cy", function(d) { return lat(d[1]); })
    .attr("r", 7.6)
    .attr("fill", corrColors[b])
    .attr("stroke", "#1a1a1a").attr("stroke-width", 1.5);
});
drawGrid(0.3);

// radar site marker
svg.append("text").attr("x", 2437).attr("y", 697).attr("text-anchor", "middle")
  .style("font-size", "72px").style("font-style", "italic")
  .style("fill", "#4f7db5").style("stroke", "#3c6397").style("stroke-width", 1).text("S");

svg.append("g").attr("transform", "translate(0,1229)")
  .call(d3.axisBottom(lon).tickValues(lonTicks).tickFormat(function(d) { return d + "\u00b0E"; }).tickSize(0).tickPadding(14))
  .call(styleAxis, 24.5);
svg.append("g").attr("transform", "translate(1772,0)")
  .call(d3.axisLeft(lat).tickValues(latTicks).tickFormat(function(d) { return d + "\u00b0N"; }).tickSize(0).tickPadding(14))
  .call(styleAxis, 24.5);
drawTitle(1772, 62);

// correlation colorbar
var corrAxis = d3.scaleLinear().domain([0.5, 1]).range([1229, 77]);
svg.append("g").selectAll("rect").data(corrColors).enter().append("rect")
  .attr("x", 3018).attr("width", 58)
  .attr("y", function(d, i) { return corrAxis(corrBands[i + 1]); })
  .attr("height", function(d, i) { return corrAxis(corrBands[i]) - corrAxis(corrBands[i + 1]); })
  .attr("fill", function(d) { return d; });
svg.append("g").attr("transform", "translate(3076,0)")
  .call(d3.axisRight(corrAxis).tickValues(corrTicks).tickFormat(d3.format(".1f")).tickSize(0).tickPadding(19))
  .call(styleAxis, tickSize);
svg.append("text").attr("transform", "translate(3180,653) rotate(-90)").attr("text-anchor", "middle").style("font-size", labelSize + "px")
  .text("Hybrid RR Correlation Coefficient");
</script>
</body>
</html>
